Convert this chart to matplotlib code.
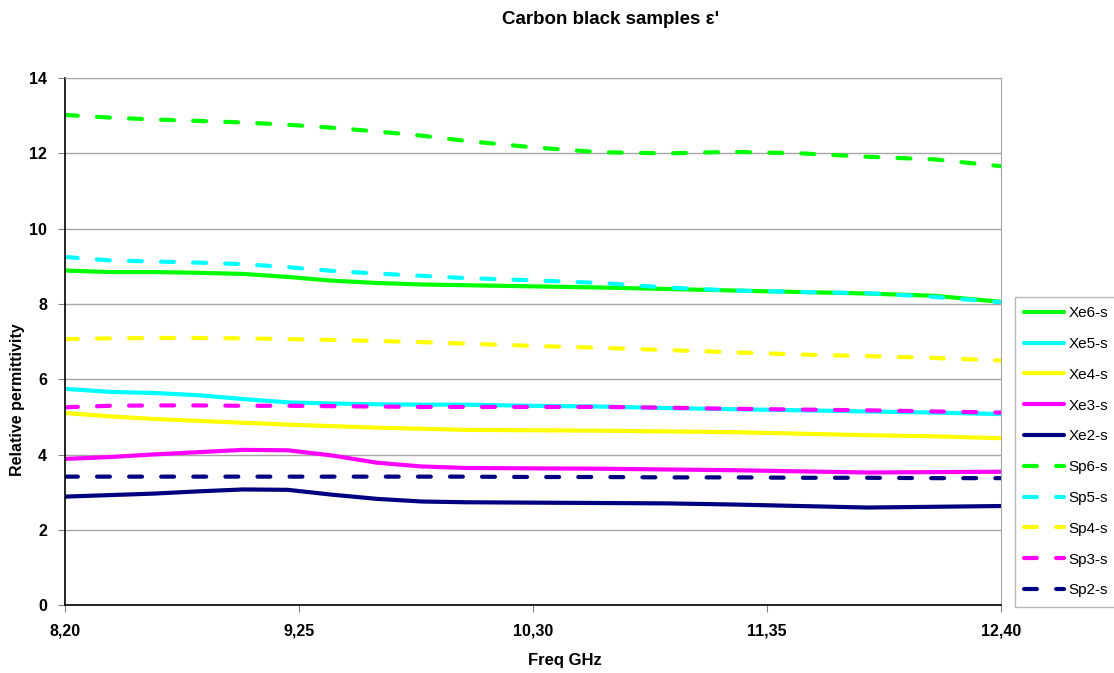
import matplotlib
matplotlib.use("Agg")
import matplotlib.pyplot as plt

plt.rcParams['font.family'] = ['Liberation Sans', 'DejaVu Sans']

# frequency points (GHz)
freq = [8.2, 8.4, 8.6, 8.8, 9.0, 9.2, 9.4, 9.6, 9.8, 10.0,
        10.3, 10.6, 10.9, 11.2, 11.5, 11.8, 12.1, 12.4]

xe6 = [8.89, 8.85, 8.85, 8.83, 8.80, 8.72, 8.62, 8.56, 8.52, 8.50,
       8.47, 8.44, 8.40, 8.36, 8.32, 8.28, 8.22, 8.06]
xe5 = [5.75, 5.67, 5.64, 5.58, 5.48, 5.39, 5.36, 5.34, 5.33, 5.33,
       5.30, 5.28, 5.24, 5.21, 5.18, 5.15, 5.12, 5.08]
xe4 = [5.11, 5.02, 4.95, 4.90, 4.85, 4.80, 4.76, 4.72, 4.69, 4.66,
       4.65, 4.64, 4.62, 4.60, 4.56, 4.52, 4.49, 4.44]
xe3 = [3.89, 3.94, 4.01, 4.07, 4.13, 4.12, 3.98, 3.79, 3.69, 3.65,
       3.64, 3.63, 3.61, 3.59, 3.56, 3.53, 3.54, 3.55]
xe2 = [2.89, 2.93, 2.97, 3.03, 3.08, 3.07, 2.94, 2.83, 2.76, 2.74,
       2.73, 2.72, 2.71, 2.68, 2.64, 2.60, 2.62, 2.64]

sp6 = [13.02, 12.95, 12.90, 12.86, 12.82, 12.76, 12.68, 12.58, 12.47, 12.33,
       12.16, 12.03, 12.00, 12.04, 12.00, 11.91, 11.84, 11.66]
sp5 = [9.25, 9.16, 9.13, 9.10, 9.06, 8.98, 8.88, 8.81, 8.75, 8.69,
       8.63, 8.56, 8.44, 8.36, 8.32, 8.29, 8.19, 8.05]
sp4 = [7.07, 7.09, 7.10, 7.10, 7.09, 7.07, 7.05, 7.02, 6.99, 6.95,
       6.89, 6.84, 6.78, 6.72, 6.66, 6.62, 6.57, 6.50]
sp3 = [5.26, 5.30, 5.31, 5.31, 5.30, 5.30, 5.29, 5.28, 5.27, 5.27,
       5.27, 5.27, 5.25, 5.22, 5.20, 5.18, 5.15, 5.12]
sp2 = [3.42, 3.42, 3.42, 3.42, 3.42, 3.42, 3.42, 3.42, 3.42, 3.42,
       3.41, 3.41, 3.40, 3.40, 3.39, 3.39, 3.38, 3.38]

xe_series = [xe6, xe5, xe4, xe3, xe2]
sp_series = [sp6, sp5, sp4, sp3, sp2]
xe_labels = ['Xe6-s', 'Xe5-s', 'Xe4-s', 'Xe3-s', 'Xe2-s']
sp_labels = ['Sp6-s', 'Sp5-s', 'Sp4-s', 'Sp3-s', 'Sp2-s']
colors = ['#00FF00', '#00FFFF', '#FFFF00', '#FF00FF', '#000080']

xticks = [8.20, 9.25, 10.30, 11.35, 12.40]
xtick_labels = ['8,20', '9,25', '10,30', '11,35', '12,40']
yticks = [0, 2, 4, 6, 8, 10, 12, 14]

fig = plt.figure(figsize=(11.14, 6.73), dpi=100)
ax = fig.add_axes([0.0583, 0.1003, 0.8403, 0.7838])

for vals, lab, c in zip(xe_series, xe_labels, colors):
    ax.plot(freq, vals, color=c, lw=3, label=lab, solid_capstyle='round')
for vals, lab, c in zip(sp_series, sp_labels, colors):
    ax.plot(freq, vals, color=c, lw=3, label=lab, linestyle=(0, (3.1, 4.6)),
            dash_capstyle='round')

ax.set_xlim(8.2, 12.4)
ax.set_ylim(0, 14)
ax.set_xticks(xticks)
ax.set_xticklabels(xtick_labels)
ax.set_yticks(yticks)
ax.yaxis.grid(True, color='#a6a6a6', lw=1)
ax.set_axisbelow(True)

for side in ['top', 'right']:
    ax.spines[side].set_color('#a6a6a6')
for side in ['left', 'bottom']:
    ax.spines[side].set_color('black')
    ax.spines[side].set_linewidth(1.2)

ax.tick_params(axis='both', direction='out', length=5, color='#808080',
               labelsize=11.5, pad=8)
for t in ax.get_xticklabels() + ax.get_yticklabels():
    t.set_fontweight('bold')

fig.text(611 / 1114, 1 - 19 / 673, "Carbon black samples ε'", ha='center', va='center',
         fontsize=13.5, fontweight='bold')
fig.text(565 / 1114, 1 - 660 / 673, 'Freq GHz', ha='center', va='center',
         fontsize=12, fontweight='bold')
fig.text(18 / 1114, 1 - 400 / 673, 'Relative permittivity', ha='center', va='center',
         rotation=90, fontsize=11.5, fontweight='bold')

leg = ax.legend(loc='upper left', bbox_to_anchor=(1015 / 1114, 1 - 297 / 673),
                bbox_transform=fig.transFigure, fontsize=11, frameon=True,
                fancybox=False, edgecolor='#a6a6a6', handlelength=2.6,
                handletextpad=0.3, labelspacing=1.1, borderpad=0.6,
                borderaxespad=0)
leg.get_frame().set_linewidth(1)

fig.savefig('out.png', dpi=100)
